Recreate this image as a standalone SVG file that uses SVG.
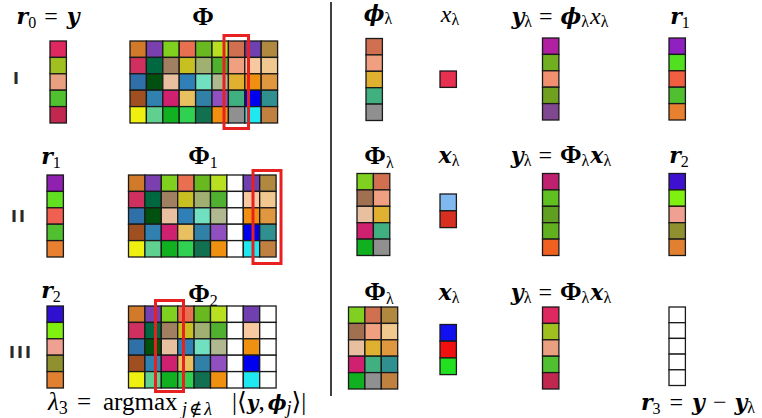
<svg xmlns="http://www.w3.org/2000/svg" width="762" height="418" viewBox="0 0 762 418">
<style>
.c{stroke:#1a1a1a;stroke-width:1.3}
.w{fill:#ffffff}
.sel{fill:none;stroke:#e82020;stroke-width:3}
.m{font-family:"Liberation Serif","DejaVu Serif",serif;font-size:24px;fill:#000}
.bi{font-family:"DejaVu Serif",serif;font-weight:bold;font-style:italic;font-size:22px}
.bs{font-family:"DejaVu Serif",serif;font-weight:bold;font-style:italic;font-size:20px}
.P{font-weight:bold;font-size:26px}
.i{font-style:italic}
.s{font-size:16px;font-weight:normal}
.f{font-size:25px}
.fs{font-size:18px;font-weight:normal}
.rn{font-family:"DejaVu Sans","Liberation Sans",sans-serif;font-size:16px;font-weight:bold;fill:#2a2a2a;text-anchor:middle;letter-spacing:2px}
</style>
<defs>
<g id="mrow0"><rect class="c" x="0" y="0" width="16.4" height="16.4" fill="#d07a2a"/><rect class="c" x="16.4" y="0" width="16.4" height="16.4" fill="#7a40b0"/><rect class="c" x="32.8" y="0" width="16.4" height="16.4" fill="#80d020"/><rect class="c" x="49.2" y="0" width="16.4" height="16.4" fill="#e87050"/><rect class="c" x="65.6" y="0" width="16.4" height="16.4" fill="#6ab820"/><rect class="c" x="82" y="0" width="16.4" height="16.4" fill="#b8e020"/></g>
<g id="mrow1"><rect class="c" x="0" y="16.4" width="16.4" height="16.4" fill="#d03060"/><rect class="c" x="16.4" y="16.4" width="16.4" height="16.4" fill="#006840"/><rect class="c" x="32.8" y="16.4" width="16.4" height="16.4" fill="#a08060"/><rect class="c" x="49.2" y="16.4" width="16.4" height="16.4" fill="#c8c020"/><rect class="c" x="65.6" y="16.4" width="16.4" height="16.4" fill="#a0b070"/><rect class="c" x="82" y="16.4" width="16.4" height="16.4" fill="#50b030"/></g>
<g id="mrow2"><rect class="c" x="0" y="32.8" width="16.4" height="16.4" fill="#3070a8"/><rect class="c" x="16.4" y="32.8" width="16.4" height="16.4" fill="#005010"/><rect class="c" x="32.8" y="32.8" width="16.4" height="16.4" fill="#e8c0a0"/><rect class="c" x="49.2" y="32.8" width="16.4" height="16.4" fill="#3080b8"/><rect class="c" x="65.6" y="32.8" width="16.4" height="16.4" fill="#70e0c0"/><rect class="c" x="82" y="32.8" width="16.4" height="16.4" fill="#b0b890"/></g>
<g id="mrow3"><rect class="c" x="0" y="49.2" width="16.4" height="16.4" fill="#a05020"/><rect class="c" x="16.4" y="49.2" width="16.4" height="16.4" fill="#3080b0"/><rect class="c" x="32.8" y="49.2" width="16.4" height="16.4" fill="#d02070"/><rect class="c" x="49.2" y="49.2" width="16.4" height="16.4" fill="#e8c060"/><rect class="c" x="65.6" y="49.2" width="16.4" height="16.4" fill="#3080a8"/><rect class="c" x="82" y="49.2" width="16.4" height="16.4" fill="#9050c0"/></g>
<g id="mrow4"><rect class="c" x="0" y="65.6" width="16.4" height="16.4" fill="#f0f010"/><rect class="c" x="16.4" y="65.6" width="16.4" height="16.4" fill="#60d090"/><rect class="c" x="32.8" y="65.6" width="16.4" height="16.4" fill="#10b020"/><rect class="c" x="49.2" y="65.6" width="16.4" height="16.4" fill="#30d050"/><rect class="c" x="65.6" y="65.6" width="16.4" height="16.4" fill="#107050"/><rect class="c" x="82" y="65.6" width="16.4" height="16.4" fill="#f09010"/></g>
<g id="base6"><use href="#mrow0"/><use href="#mrow1"/><use href="#mrow2"/><use href="#mrow3"/><use href="#mrow4"/></g>
<g id="col6"><rect class="c" x="0" y="0" width="16.4" height="16.4" fill="#d07050"/><rect class="c" x="0" y="16.4" width="16.4" height="16.4" fill="#f0a080"/><rect class="c" x="0" y="32.8" width="16.4" height="16.4" fill="#e0b030"/><rect class="c" x="0" y="49.2" width="16.4" height="16.4" fill="#40b080"/><rect class="c" x="0" y="65.6" width="16.4" height="16.4" fill="#909090"/></g>
<g id="col7"><rect class="c" x="0" y="0" width="16.4" height="16.4" fill="#7040b0"/><rect class="c" x="0" y="16.4" width="16.4" height="16.4" fill="#f8c8a0"/><rect class="c" x="0" y="32.8" width="16.4" height="16.4" fill="#f09010"/><rect class="c" x="0" y="49.2" width="16.4" height="16.4" fill="#0000f0"/><rect class="c" x="0" y="65.6" width="16.4" height="16.4" fill="#20e8f0"/></g>
<g id="col8"><rect class="c" x="0" y="0" width="16.4" height="16.4" fill="#b08840"/><rect class="c" x="0" y="16.4" width="16.4" height="16.4" fill="#f0c890"/><rect class="c" x="0" y="32.8" width="16.4" height="16.4" fill="#e09840"/><rect class="c" x="0" y="49.2" width="16.4" height="16.4" fill="#309090"/><rect class="c" x="0" y="65.6" width="16.4" height="16.4" fill="#c08040"/></g>
<g id="col2"><rect class="c" x="0" y="0" width="16.4" height="16.4" fill="#80d020"/><rect class="c" x="0" y="16.4" width="16.4" height="16.4" fill="#a07050"/><rect class="c" x="0" y="32.8" width="16.4" height="16.4" fill="#e8c0a0"/><rect class="c" x="0" y="49.2" width="16.4" height="16.4" fill="#d02070"/><rect class="c" x="0" y="65.6" width="16.4" height="16.4" fill="#10b020"/></g>
<g id="colw"><rect class="c w" x="0" y="0" width="16.4" height="16.4"/><rect class="c w" x="0" y="16.4" width="16.4" height="16.4"/><rect class="c w" x="0" y="32.8" width="16.4" height="16.4"/><rect class="c w" x="0" y="49.2" width="16.4" height="16.4"/><rect class="c w" x="0" y="65.6" width="16.4" height="16.4"/></g>
</defs>

<!-- Row I -->
<g id="r0">
<text class="m" x="48" y="24" text-anchor="middle"><tspan class="bi">r</tspan><tspan class="s" dy="4">0</tspan><tspan dy="-4" dx="8">=</tspan><tspan class="bi" dx="9">y</tspan></text>
<g transform="translate(50,41)">
<rect class="c" x="0" y="0" width="16.4" height="16.4" fill="#e02860"/><rect class="c" x="0" y="16.4" width="16.4" height="16.4" fill="#a0c020"/><rect class="c" x="0" y="32.8" width="16.4" height="16.4" fill="#e8a080"/><rect class="c" x="0" y="49.2" width="16.4" height="16.4" fill="#50c030"/><rect class="c" x="0" y="65.6" width="16.4" height="16.4" fill="#c02850"/>
</g>
</g>
<text class="rn" x="17" y="84">I</text>
<g id="phi">
<text class="m P" x="203" y="25" text-anchor="middle">Φ</text>
<g transform="translate(130,41)"><use href="#base6"/><use href="#col6" x="98.4"/><use href="#col7" x="114.8"/><use href="#col8" x="131.2"/></g>
<rect class="sel" x="224" y="35.5" width="24.5" height="93"/>
</g>
<g id="philam1">
<text class="m" x="378" y="21" text-anchor="middle"><tspan class="bi">ϕ</tspan><tspan class="s" dy="3">λ</tspan></text>
<g transform="translate(366,38.5)"><use href="#col6"/></g>
</g>
<g id="xlam1">
<text class="m" x="450" y="22" text-anchor="middle"><tspan class="i">x</tspan><tspan class="s" dy="3">λ</tspan></text>
<rect class="c" x="440" y="71" width="16.4" height="16.4" fill="#e83050"/>
</g>
<g id="ylam1">
<text class="m" x="560" y="24" text-anchor="middle"><tspan class="bi">y</tspan><tspan class="s" dy="3">λ</tspan><tspan dy="-3" dx="7">=</tspan><tspan class="bi" dx="8">ϕ</tspan><tspan class="s" dy="3">λ</tspan><tspan dy="-3" dx="1" class="i">x</tspan><tspan class="s" dy="3">λ</tspan></text>
<g transform="translate(542.5,38)">
<rect class="c" x="0" y="0" width="16.4" height="16.4" fill="#b020a0"/><rect class="c" x="0" y="16.4" width="16.4" height="16.4" fill="#70b020"/><rect class="c" x="0" y="32.8" width="16.4" height="16.4" fill="#f09070"/><rect class="c" x="0" y="49.2" width="16.4" height="16.4" fill="#70a020"/><rect class="c" x="0" y="65.6" width="16.4" height="16.4" fill="#804890"/>
</g>
</g>
<g id="r1right">
<text class="m" x="680" y="24" text-anchor="middle"><tspan class="bi">r</tspan><tspan class="s" dy="4">1</tspan></text>
<g transform="translate(669,38)">
<rect class="c" x="0" y="0" width="16.4" height="16.4" fill="#9020c0"/><rect class="c" x="0" y="16.4" width="16.4" height="16.4" fill="#50e020"/><rect class="c" x="0" y="32.8" width="16.4" height="16.4" fill="#f06040"/><rect class="c" x="0" y="49.2" width="16.4" height="16.4" fill="#50c030"/><rect class="c" x="0" y="65.6" width="16.4" height="16.4" fill="#e88030"/>
</g>
</g>

<!-- Row II -->
<g id="r1">
<text class="m" x="51" y="164" text-anchor="middle"><tspan class="bi">r</tspan><tspan class="s" dy="4">1</tspan></text>
<g transform="translate(47,175)">
<rect class="c" x="0" y="0" width="16.4" height="16.4" fill="#9020b0"/><rect class="c" x="0" y="16.4" width="16.4" height="16.4" fill="#60e020"/><rect class="c" x="0" y="32.8" width="16.4" height="16.4" fill="#f06050"/><rect class="c" x="0" y="49.2" width="16.4" height="16.4" fill="#50c030"/><rect class="c" x="0" y="65.6" width="16.4" height="16.4" fill="#e88030"/>
</g>
</g>
<text class="rn" x="19" y="222">II</text>
<g id="phi1">
<text class="m" x="203" y="164" text-anchor="middle"><tspan class="P">Φ</tspan><tspan class="s" dy="4">1</tspan></text>
<g transform="translate(128.5,175)"><use href="#base6"/><use href="#colw" x="98.4"/><use href="#col7" x="114.8"/><use href="#col8" x="131.2"/></g>
<rect class="sel" x="253" y="170.5" width="28" height="93"/>
</g>
<g id="philam2">
<text class="m" x="379" y="164" text-anchor="middle"><tspan class="P">Φ</tspan><tspan class="s" dy="4">λ</tspan></text>
<g transform="translate(357,173.5)"><use href="#col2"/><use href="#col6" x="16.4"/></g>
</g>
<g id="xlam2">
<text class="m" x="449" y="163" text-anchor="middle"><tspan class="bi">x</tspan><tspan class="s" dy="3">λ</tspan></text>
<rect class="c" x="440" y="194" width="16.4" height="16.8" fill="#80b8f0"/><rect class="c" x="440" y="210.8" width="16.4" height="16.8" fill="#d83020"/>
</g>
<g id="ylam2">
<text class="m" x="561" y="163" text-anchor="middle"><tspan class="bi">y</tspan><tspan class="s" dy="3">λ</tspan><tspan dy="-3" dx="7">=</tspan><tspan class="P" dx="8">Φ</tspan><tspan class="s" dy="3">λ</tspan><tspan dy="-3" dx="1" class="bi">x</tspan><tspan class="s" dy="3">λ</tspan></text>
<g transform="translate(542.5,173.5)">
<rect class="c" x="0" y="0" width="16.4" height="16.4" fill="#c02070"/><rect class="c" x="0" y="16.4" width="16.4" height="16.4" fill="#60c020"/><rect class="c" x="0" y="32.8" width="16.4" height="16.4" fill="#60a020"/><rect class="c" x="0" y="49.2" width="16.4" height="16.4" fill="#60b020"/><rect class="c" x="0" y="65.6" width="16.4" height="16.4" fill="#f06020"/>
</g>
</g>
<g id="r2right">
<text class="m" x="679" y="163" text-anchor="middle"><tspan class="bi">r</tspan><tspan class="s" dy="4">2</tspan></text>
<g transform="translate(669,173.5)">
<rect class="c" x="0" y="0" width="16.4" height="16.4" fill="#4010d0"/><rect class="c" x="0" y="16.4" width="16.4" height="16.4" fill="#80f010"/><rect class="c" x="0" y="32.8" width="16.4" height="16.4" fill="#f0a090"/><rect class="c" x="0" y="49.2" width="16.4" height="16.4" fill="#909030"/><rect class="c" x="0" y="65.6" width="16.4" height="16.4" fill="#e08030"/>
</g>
</g>

<!-- Row III -->
<g id="r2">
<text class="m" x="51" y="298" text-anchor="middle"><tspan class="bi">r</tspan><tspan class="s" dy="4">2</tspan></text>
<g transform="translate(47,306)">
<rect class="c" x="0" y="0" width="16.4" height="16.4" fill="#3010d0"/><rect class="c" x="0" y="16.4" width="16.4" height="16.4" fill="#80f010"/><rect class="c" x="0" y="32.8" width="16.4" height="16.4" fill="#f0a090"/><rect class="c" x="0" y="49.2" width="16.4" height="16.4" fill="#909030"/><rect class="c" x="0" y="65.6" width="16.4" height="16.4" fill="#e08030"/>
</g>
</g>
<text class="rn" x="21" y="358">III</text>
<g id="phi2">
<text class="m" x="203" y="302" text-anchor="middle"><tspan class="P">Φ</tspan><tspan class="s" dy="4">2</tspan></text>
<g transform="translate(128.5,306)"><use href="#base6"/><use href="#colw" x="98.4"/><use href="#col7" x="114.8"/><use href="#colw" x="131.2"/></g>
<rect class="sel" x="155.5" y="300.5" width="28" height="91"/>
</g>
<g id="philam3">
<text class="m" x="379" y="300" text-anchor="middle"><tspan class="P">Φ</tspan><tspan class="s" dy="4">λ</tspan></text>
<g transform="translate(348.5,307)"><use href="#col2"/><use href="#col6" x="16.4"/><use href="#col8" x="32.8"/></g>
</g>
<g id="xlam3">
<text class="m" x="449" y="300" text-anchor="middle"><tspan class="bi">x</tspan><tspan class="s" dy="3">λ</tspan></text>
<rect class="c" x="440" y="324.5" width="16.4" height="16.7" fill="#1010f0"/><rect class="c" x="440" y="341.2" width="16.4" height="16.7" fill="#f01010"/><rect class="c" x="440" y="357.9" width="16.4" height="16.7" fill="#20e020"/>
</g>
<g id="ylam3">
<text class="m" x="561" y="300" text-anchor="middle"><tspan class="bi">y</tspan><tspan class="s" dy="3">λ</tspan><tspan dy="-3" dx="7">=</tspan><tspan class="P" dx="8">Φ</tspan><tspan class="s" dy="3">λ</tspan><tspan dy="-3" dx="1" class="bi">x</tspan><tspan class="s" dy="3">λ</tspan></text>
<g transform="translate(542.5,307)">
<rect class="c" x="0" y="0" width="16.4" height="16.4" fill="#e02860"/><rect class="c" x="0" y="16.4" width="16.4" height="16.4" fill="#a0c020"/><rect class="c" x="0" y="32.8" width="16.4" height="16.4" fill="#e8a080"/><rect class="c" x="0" y="49.2" width="16.4" height="16.4" fill="#50c030"/><rect class="c" x="0" y="65.6" width="16.4" height="16.4" fill="#c02850"/>
</g>
</g>
<g id="r3">
<g transform="translate(669,307)">
<rect class="c w" x="0" y="0" width="16.4" height="15.7"/><rect class="c w" x="0" y="15.7" width="16.4" height="15.7"/><rect class="c w" x="0" y="31.4" width="16.4" height="15.7"/><rect class="c w" x="0" y="47.1" width="16.4" height="15.7"/><rect class="c w" x="0" y="62.8" width="16.4" height="15.7"/>
</g>
<text class="m" x="698" y="410" text-anchor="middle"><tspan class="bi">r</tspan><tspan class="s" dy="4">3</tspan><tspan dy="-4" dx="9">=</tspan><tspan class="bi" dx="9">y</tspan><tspan dx="8">−</tspan><tspan class="bi" dx="8">y</tspan><tspan class="s" dy="3">λ</tspan></text>
</g>

<text class="m f" y="410"><tspan x="48" class="i">λ</tspan><tspan class="fs" dy="4">3</tspan><tspan x="77" dy="-4">=</tspan><tspan x="103">argmax</tspan><tspan x="182" class="fs i" dy="5" letter-spacing="2">j∉λ</tspan><tspan x="232" dy="-5">|⟨</tspan><tspan class="bs">y</tspan><tspan>,</tspan><tspan class="bs" dx="3">ϕ</tspan><tspan class="fs i" dy="4">j</tspan><tspan dy="-4">⟩|</tspan></text>

<g id="connectors">
<line x1="331" y1="2" x2="331" y2="396" stroke="#000" stroke-width="1.5"/>
</g>
</svg>
